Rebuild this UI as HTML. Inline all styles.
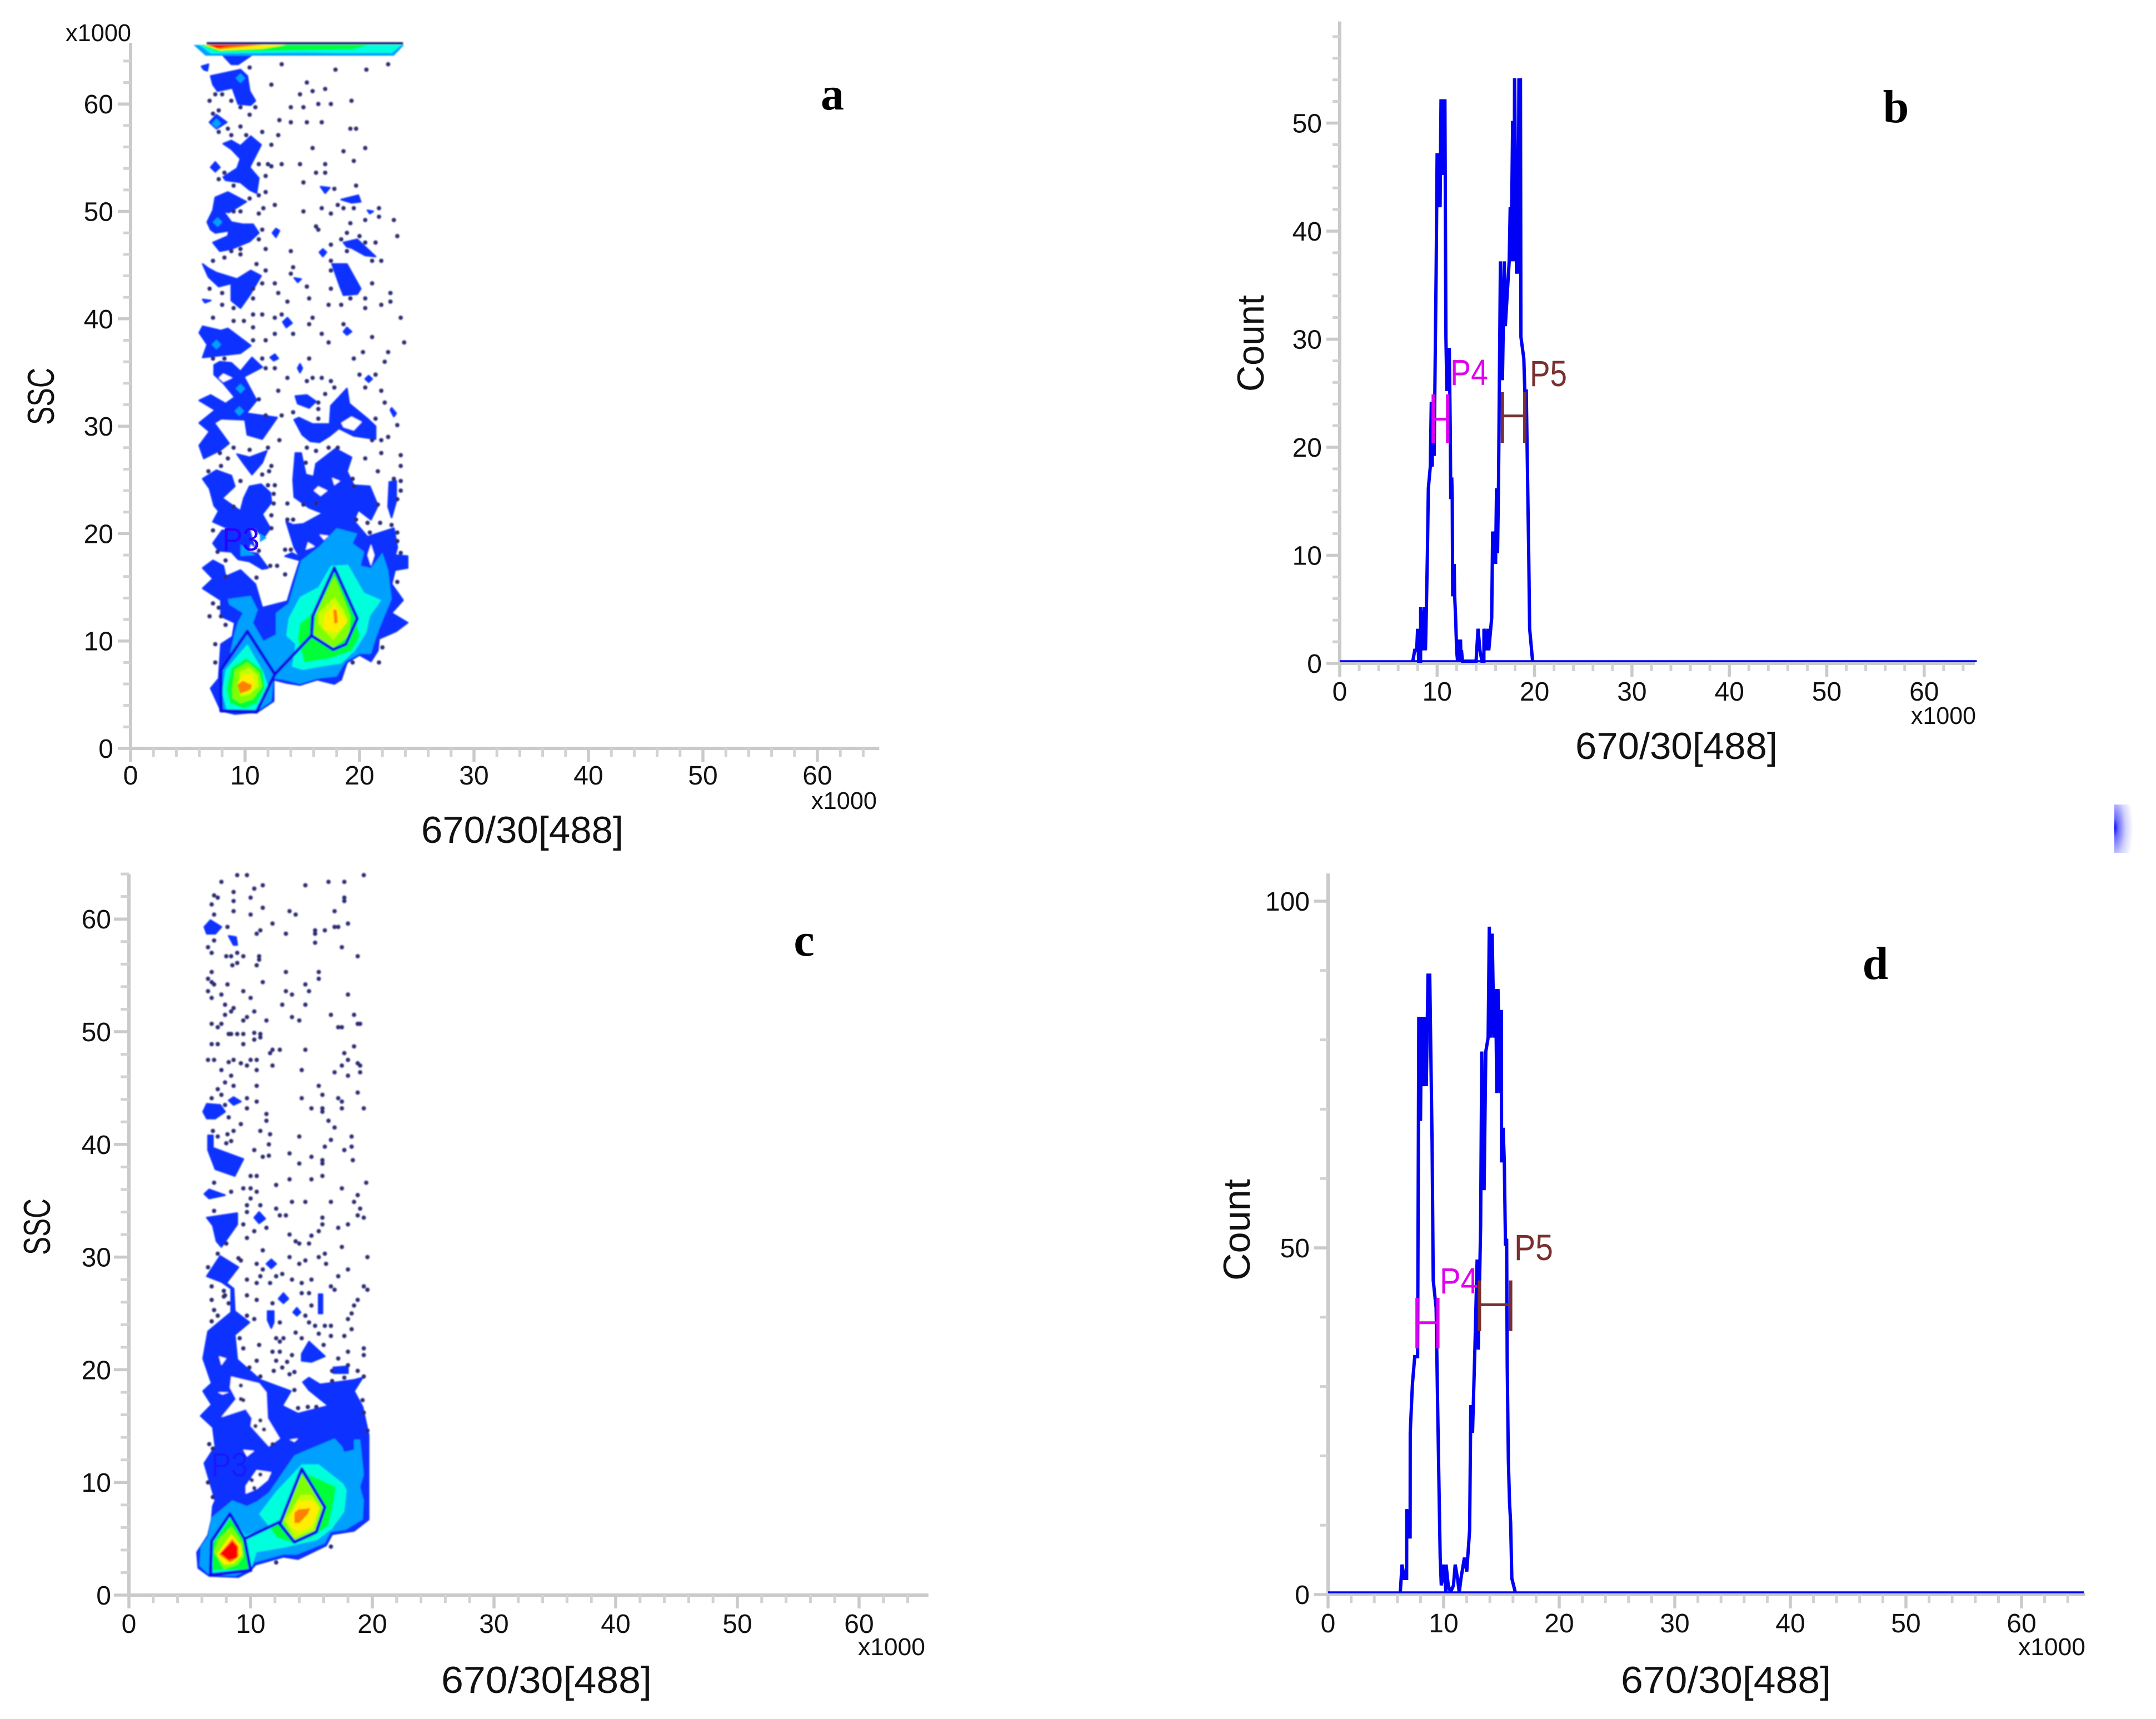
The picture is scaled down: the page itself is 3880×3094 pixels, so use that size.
<!DOCTYPE html>
<html lang="en">
<head>
<meta charset="utf-8">
<title>Flow cytometry panels</title>
<style>
html,body{margin:0;padding:0;background:#fff;}
svg{display:block;}
text{font-family:"Liberation Sans",sans-serif;fill:#111;}
.tick{font-size:48px;}
.title{font-size:68px;}
.mult{font-size:44px;}
.letter{font-family:"Liberation Serif",serif;font-weight:bold;font-size:84px;fill:#000;}
.gate-label{font-size:66px;}
</style>
</head>
<body>
<svg id="fig" xmlns="http://www.w3.org/2000/svg" width="3880" height="3094" viewBox="0 0 3880 3094">
<defs>
<clipPath id="clip-b"><rect x="2300" y="141" width="1300" height="1070"/></clipPath>
<radialGradient id="edge-glow" cx="0" cy="0.48" r="1">
<stop offset="0" stop-color="#0000ff"/><stop offset="0.2" stop-color="#6a6aff"/><stop offset="0.6" stop-color="#d0d0ff"/><stop offset="1" stop-color="#ffffff"/>
</radialGradient>
<filter id="soft" filterUnits="userSpaceOnUse" x="0" y="0" width="3880" height="3094">
<feGaussianBlur stdDeviation="1.3"/>
</filter>
</defs>
<rect x="0" y="0" width="3880" height="3094" fill="#fff"/>

<g id="panel-a"></g>
<g id="panel-b"></g>
<g id="panel-c"></g>
<g id="panel-d"></g>

<text class="letter" x="1498" y="197" text-anchor="middle">a</text>
<text class="letter" x="3412" y="220" text-anchor="middle">b</text>
<text class="letter" x="1447" y="1720" text-anchor="middle">c</text>
<text class="letter" x="3375" y="1762" text-anchor="middle">d</text>

<text class="title" x="758" y="1517" textLength="364" lengthAdjust="spacingAndGlyphs">670/30[488]</text>
<text class="title" x="2835" y="1366" textLength="364" lengthAdjust="spacingAndGlyphs">670/30[488]</text>
<text class="title" x="794" y="3047" textLength="379" lengthAdjust="spacingAndGlyphs">670/30[488]</text>
<text class="title" x="2917" y="3047" textLength="378" lengthAdjust="spacingAndGlyphs">670/30[488]</text>

<text class="title" transform="translate(97,765) rotate(-90)" textLength="103" lengthAdjust="spacingAndGlyphs">SSC</text>
<text class="title" transform="translate(90,2259) rotate(-90)" textLength="102" lengthAdjust="spacingAndGlyphs">SSC</text>
<text class="title" transform="translate(2274,705) rotate(-90)" textLength="174" lengthAdjust="spacingAndGlyphs">Count</text>
<text class="title" transform="translate(2249,2305) rotate(-90)" textLength="183" lengthAdjust="spacingAndGlyphs">Count</text>

<text class="mult" x="118" y="74" textLength="118" lengthAdjust="spacingAndGlyphs">x1000</text>
<text class="mult" x="1460" y="1456" textLength="118" lengthAdjust="spacingAndGlyphs">x1000</text>
<text class="mult" x="3439" y="1303" textLength="117" lengthAdjust="spacingAndGlyphs">x1000</text>
<text class="mult" x="1544" y="2979" textLength="121" lengthAdjust="spacingAndGlyphs">x1000</text>
<text class="mult" x="3632" y="2979" textLength="121" lengthAdjust="spacingAndGlyphs">x1000</text>

<text class="gate-label" x="400" y="991" textLength="67" lengthAdjust="spacingAndGlyphs" style="font-size:58px;fill:#2a00ff">P3</text>
<text class="gate-label" x="380" y="2657" textLength="66" lengthAdjust="spacingAndGlyphs" style="font-size:60px;fill:#1a1aff">P3</text>
<text class="gate-label" x="2610" y="693" textLength="68" lengthAdjust="spacingAndGlyphs" style="fill:#e000f0">P4</text>
<text class="gate-label" x="2753" y="695" textLength="67" lengthAdjust="spacingAndGlyphs" style="fill:#7a3030">P5</text>
<text class="gate-label" x="2591" y="2328" textLength="69" lengthAdjust="spacingAndGlyphs" style="fill:#e000f0">P4</text>
<text class="gate-label" x="2725" y="2268" textLength="70" lengthAdjust="spacingAndGlyphs" style="fill:#7a3030">P5</text>

<rect x="3805" y="1448" width="34" height="87" fill="url(#edge-glow)"/>
</svg>

<script>
/* ---------- shared tick values ---------- */
const xMajorTicks = [0,10,20,30,40,50,60];
const xMinorTicks = [2,4,6,8,12,14,16,18,22,24,26,28,32,34,36,38,42,44,46,48,52,54,56,58,62,64];
const yMajorTicksSSC = [0,10,20,30,40,50,60];
const yMinorTicksSSC = [2,4,6,8,12,14,16,18,22,24,26,28,32,34,36,38,42,44,46,48,52,54,56,58,62,64];
const yMajorTicksCountB = [0,10,20,30,40,50];
const yMinorTicksCountB = [2,4,6,8,12,14,16,18,22,24,26,28,32,34,36,38,42,44,46,48,52,54,56,58];
const yMajorTicksCountD = [0,50,100];
const yMinorTicksCountD = [10,20,30,40,60,70,80,90];

/* ---------- contour level colours ---------- */
const levelBlue = "#0a32ff";
const levelLight = "#00a0ff";
const levelCyan = "#00ffdc";
const levelGreen = "#00ff38";
const levelLime = "#80ff00";
const levelChartreuse = "#c8ff00";
const levelYellow = "#ffee00";
const levelOrange = "#ff8000";
const levelRed = "#ff0000";

/* ---------- panel a: SSC vs 670/30 (thousands) ---------- */
const aBlue = [
[[8.1,64.5],[10.5,64.5],[9.4,63.7],[8.8,63.7]],
[[6.2,63.5],[6.8,63.7],[6.7,63.1],[6.4,63.2]],
[[7,62.6],[9.6,63.2],[10.2,62.6],[10.4,61.2],[10.9,60.3],[10.5,59.9],[9.4,60],[8.9,61.5],[7.6,61.2],[7.2,61.8]],
[[7.5,59],[8.4,58.3],[7.5,57.7],[6.9,58.3]],
[[8.1,56.3],[8.8,56.6],[9.6,56.1],[10.5,57],[11.4,56.2],[10.4,54.1],[11.2,53.1],[11,51.7],[10.4,52],[9.6,52.7],[8.3,52.9],[8.1,53.2],[9.3,54],[9.6,54.9],[8.8,55.8]],
[[7.4,54.6],[7.8,54.1],[7.4,53.7],[7,54.1]],
[[7.4,51.3],[8.5,51.8],[10.1,50.9],[8.6,49.9],[8.1,50],[8.8,49],[9.8,48.8],[10.7,48.8],[11.2,48],[10.4,47.2],[8.8,46.5],[7.8,46.3],[7.2,47.1],[8.5,47.7],[8.6,48.2],[7.4,48],[7,48.3],[6.7,49],[7.2,50.1]],
[[12.7,48.4],[13,48.2],[12.7,47.6],[12.4,48]],
[[16.6,52.3],[17.4,52.2],[17,51.7]],
[[18.4,51.1],[19.9,51.5],[20.1,50.9],[19.3,50.8]],
[[20.7,50.1],[21.2,50],[20.9,49.8]],
[[18.6,47.1],[19.8,47.4],[21.4,45.8],[20.5,45.9],[19.3,46.6],[18.9,46.7]],
[[16.8,46.5],[17.1,46.2],[16.8,45.8],[16.5,46.2]],
[[17.6,45.1],[18.9,45.1],[20.1,42.8],[19.8,42.3],[18.6,42.2],[18.3,43]],
[[6.3,45.1],[6.8,44.7],[7.5,44.3],[9.3,43.7],[10.5,44.5],[11.4,44],[10.4,42.2],[9.6,41],[8.8,41.7],[8.8,43.3],[7.7,43],[6.8,43.9]],
[[14.3,43.8],[14.9,43.7],[14.6,43.4]],
[[6.3,41.8],[7,41.7],[6.5,41.5]],
[[13.7,40.1],[14.1,39.6],[13.6,39.2],[13.3,39.7]],
[[18.9,39.2],[19.3,38.8],[18.9,38.5],[18.6,38.8]],
[[6,38.7],[6.3,39.3],[7.9,38.9],[8.5,39.1],[10.5,37.5],[9.6,36.8],[6.3,36.4],[6.7,37.6]],
[[12.6,36.7],[12.9,36.3],[12.5,36.1],[12.2,36.4]],
[[14.8,35.8],[15,35.4],[14.8,35],[14.6,35.4]],
[[20.8,34.7],[21.1,34.4],[20.8,34.1],[20.5,34.4]],
[[22.8,31.7],[23.2,31.2],[23,30.9],[22.7,31.5]],
[[7.3,35.7],[7.8,36],[8.8,35.9],[9.6,35.1],[10.6,36.4],[11.5,35.5],[9.9,34.6],[11,32.4],[10.1,31.2],[12.8,30.8],[11.5,28.8],[10.2,29.2],[10,30.6],[7.9,30.7],[7.3,30.3],[8.6,28.4],[7.9,27.8],[6.4,27],[6,28.2],[6.9,29.5],[6,30.3],[7.4,31.5],[6,32.4],[7,32.9],[8.3,32.1],[9.1,32.7],[8.1,34],[7.3,34.8]],
[[14.4,32.8],[15.4,32.9],[16.2,32.3],[15.6,31.7],[14.6,32.1]],
[[14.3,30.6],[14.7,30.8],[15.9,30.2],[17.4,30.2],[17.5,31.9],[18.9,33.5],[19.1,32.1],[20.7,30.7],[21.4,30],[21.4,28.8],[19.5,29.1],[18.2,29.8],[17.4,29.1],[16.5,28.5],[15.7,28.6],[15,29.2]],
[[9.3,27.4],[10.4,27.1],[11.9,27.7],[11.5,26.6],[10.6,25.5],[9.9,26.5]],
[[6.3,25.1],[7.5,25.9],[8.8,25.4],[9.1,24.4],[8,23.3],[9.6,22.1],[9.9,23.3],[10.4,24.4],[11.4,24.6],[12.2,23.8],[12.3,22.9],[11.5,21.8],[12.2,20.5],[11.6,19.6],[10.9,20.5],[8.9,20.3],[7.2,21.1],[7.7,22.1],[7.3,22.6],[6.9,24.2]],
[[7.2,19.1],[8,20.3],[10.4,20.3],[10.9,18.4],[12,16.8],[11.5,16.7],[10.4,17.4],[9.4,17.6],[8.8,18.3],[7.7,18.4]],
[[22.6,24.8],[23.2,24.9],[23.2,23],[22.8,21.5],[22.5,22.5]],
[[6.3,16.8],[7.2,17.5],[8.1,17],[8.3,16],[9.6,16.6],[10.9,15.3],[11.5,13.1],[13.7,13.7],[14.2,15.5],[14.8,17.5],[13.5,17.9],[14.1,18.2],[14.8,17.8],[14.3,18.7],[13.6,21.1],[14.2,20.8],[15.1,20.9],[16.8,21.9],[15.6,22.4],[14.3,23.4],[14.2,25],[14.4,27.5],[14.9,27.5],[15.3,25.5],[16,25.3],[16.2,26.5],[17.9,27.9],[19.3,27.1],[18.9,25.8],[19.5,24.5],[20.9,24.4],[21.6,22.6],[21,21.3],[19.9,22.2],[19.5,21.2],[20.7,19.7],[23,20.5],[23.3,18.7],[23.1,18],[24.2,17.9],[24.2,16.8],[23.1,16.6],[22.8,15.3],[23.8,13.8],[22.8,12.6],[24.2,11.7],[23.2,10.9],[21.7,10.2],[21.6,9.1],[21,8.1],[20,8.7],[18.9,8],[18.4,6.4],[17.8,6],[16.3,6.4],[14.8,5.9],[13.6,6.1],[12.5,6.4],[12.5,4.4],[11.1,3.4],[9.1,3.2],[7.9,3.5],[7,5.6],[7.7,6.5],[7.9,9.7],[8.9,10.4],[9.1,11.7],[7.9,12.3],[7.9,13.8],[6.3,14.9],[7.2,15.8]]
];
const aHoles = [
[[8.1,34.9],[8.9,34.5],[8.1,34.1],[7.7,34.5]],
[[18.4,30.3],[19.3,30.9],[20.2,30.4],[19.5,29.6],[18.6,29.9]],
[[16.4,24.4],[17.2,24],[16.6,23.5],[16,24]],
[[17.6,25.2],[18.3,24.9],[17.8,24.5]],
[[15.5,19.2],[16.1,18.8],[15.3,18.5]],
[[16.5,19.9],[17.3,19.8],[16.9,19.4]],
[[10.5,19],[11.3,18.2],[10.4,18.4]],
[[21,19],[21.3,18],[21,17],[20.7,18]]
];
const aLight = [
[[8.5,13.9],[10.5,14.2],[11.1,12.9],[10.7,11.7],[11.6,10],[12.7,10.6],[12.7,12.6],[13.8,13.5],[14.3,15.3],[14.9,17.5],[16.5,18.8],[18,20.5],[19.8,20],[19.4,19.1],[20.4,18.3],[20.1,17],[21,16.8],[22,18.2],[22.5,16.6],[22.8,13.9],[21.9,11.6],[21.5,10.5],[21,8.8],[20,8.8],[18.8,8.1],[18,6.7],[16.3,6.5],[14.8,6],[13.3,6.4],[12.5,6.5],[12.3,4.4],[11.1,3.5],[9.1,3.4],[8.1,3.6],[7.9,7.1],[8.6,8.4],[9.1,10.8],[9.4,11.8],[9.8,12.6],[8.6,13.4]],
[[9.6,19],[10.9,18],[9.6,17.9]],
[[11.3,20],[11.9,19.6],[11.3,19.2]],
[[5.5,65.5],[23.9,65.5],[23,64.5],[6.55,64.5]]
];
const aCyan = [
[[14.3,13.1],[14.8,14.1],[16.4,15],[17.5,17],[19,17.1],[20.4,14.5],[21.9,13.8],[20.9,12.3],[20.6,10.8],[19.6,9.1],[18.4,7.9],[16.5,7.6],[15.1,7.3],[14.1,7.6],[14.4,9.7],[13.6,10.5],[13.8,12.1]],
[[8.3,7.3],[10.2,9.7],[11.6,7.1],[12.1,5.5],[11,3.6],[8.4,3.6],[8,5.2]],
[[6,65.5],[23.7,65.5],[22.8,64.75],[18,64.75],[15,64.8],[7,64.7]]
];
const aGreen = [
[[14.8,11.6],[15.9,12.6],[17.7,16.6],[18.3,15.3],[19.6,12.3],[20,10.4],[19.3,9.1],[17.5,8.4],[15.2,8],[14.6,10.2]],
[[8.4,5.6],[8.8,7.5],[10.1,8.4],[11.5,7.3],[11.7,5.6],[11,4.2],[9.9,3.7],[8.7,4.2]],
[[6.2,65.5],[20.8,65.5],[19.5,65.1],[14,65],[12,64.95],[7.5,64.9]]
];
const aLime = [
[[16.2,12.6],[17.8,16],[18.4,14.5],[19.2,12.3],[19.1,10.5],[17.6,9.3],[16,10.5]],
[[8.9,5.6],[9.1,7.3],[10.2,8],[11.2,7.1],[11.5,5.8],[10.7,4.6],[9.6,4.2],[8.9,4.7]]
];
const aChartreuse = [
[[16.4,12.6],[17.8,14.1],[18.6,12.9],[19,11.9],[18.4,11],[17.7,10.1],[16.4,11.6]],
[[9.5,6],[9.5,7.1],[10.4,7.5],[11.1,6.8],[11.2,5.8],[10.4,5],[9.6,4.8]]
];
const aYellow = [
[[16.9,12.3],[17.8,13.4],[18.6,12.3],[18.9,11.7],[18,10.8],[16.9,11]],
[[9.4,6.1],[9.8,6.8],[10.6,6.9],[10.9,6],[10.4,5.2],[9.6,5.1]],
[[6.4,65.5],[13.6,65.5],[11.5,65.15],[7.8,65]]
];
const aOrange = [
[[17.7,12.9],[18,12.9],[18.1,11.7],[17.8,11.6]],
[[9.3,5.9],[9.8,6.3],[10.6,5.9],[10.5,5.5],[9.6,5.1]],
[[6.6,65.5],[11.6,65.5],[9,65.25],[7.8,65.1]]
];
const aRed = [
[[6.9,65.5],[11,65.5],[8.5,65.35],[7.5,65.2]]
];
const aSpots = [[9.6,62.4],[7.5,58.2],[7.6,49],[7.5,37.6],[9.6,33.5],[9.5,31.4]];
const aTopEdge = [[6.65,65.65],[23.8,65.65]];
const aGateLow = [[7.9,7.3],[10.2,10.9],[12.6,6.9],[11,3.4],[7.9,3.5]];
const aGateHigh = [[15.8,10.5],[15.9,12.3],[17.8,16.8],[19.8,12.1],[18.8,9.7],[17.7,9.2]];
const aGateLink = [[12.6,6.9],[15.8,10.5]];
const aDots = [
[13.2,63.7],[17.9,63.2],[20.6,63.2],[22.5,63.7],[12.3,61.8],[15.4,62],[14.8,60.9],[15.9,61.2],[17,61.4],[6.9,60.3],[7.4,60.9],[8,60.9],[8.8,60.3],[9.6,59.7],[10.9,59.7],[14,59.7],[15.1,59.7],[16.4,60],[17.5,60],[19.3,60.3],[10.4,59],[10.4,63.4],[7.2,59.1],[7.7,59.4],[13,58.5],[14,58.3],[15.4,58.3],[16.7,58.3],[9.6,57.9],[19.2,57.7],[19.7,57.7],[8.5,57.7],[11.5,57.4],[7.7,57.4],[8.8,57.1],[10.1,57.1],[12.9,57.1],[12.3,56.2],[15.9,55.9],[18.6,55.6],[20.5,55.9],[19.5,54.7],[11.2,54.4],[12,54.4],[12.3,54.2],[13.2,54.4],[14.8,54.4],[17,54.4],[16.2,53.6],[17,53.6],[11.8,53.3],[7.7,53],[8.2,53.6],[15.1,52.7],[9,52.4],[19.7,52.4],[17.8,52.1],[11.2,51.5],[11.8,51.8],[10.4,51.2],[12.6,50.6],[18.1,50.6],[11.6,50.3],[16.7,50.3],[18.6,50.3],[19.5,50.3],[21.7,50.3],[15.1,50],[9.6,50],[9,50],[11.2,49.8],[17.5,49.8],[20.5,49.2],[21.7,49.5],[23,49.2],[19.2,48.9],[16.2,48.6],[16.4,48.3],[11.5,48.3],[18.9,48],[20,47.7],[23.3,47.7],[18.4,47.4],[20.5,47.1],[21.4,47.1],[11.2,47.4],[17.5,46.9],[18.9,46.3],[11.8,46.5],[9.6,46.5],[8.8,46.3],[14,46.3],[9.6,46],[8.2,45.7],[7.2,45.4],[21.1,45.4],[21.9,45.4],[17.5,45.4],[11,45.1],[14.2,44.8],[11.8,44.5],[14,44.2],[17.5,44.5],[11.5,43.3],[12.6,43.3],[21.1,43.3],[15.4,43],[10.7,42.8],[17.5,42.8],[6.9,42.8],[8,42.4],[12.9,42.4],[22.7,42.4],[10.7,41.9],[15.6,41.9],[19.2,41.9],[20.5,41.9],[13.7,41.6],[22.7,41.6],[8,41.3],[9,41],[17.3,41.3],[18.4,41.3],[21.9,41.3],[20.5,41],[7.2,40.1],[10.7,40.4],[11.5,40.4],[13.2,40.4],[15.9,40.1],[23.6,40.1],[9,39.8],[9.9,39.8],[12.6,40.1],[15.6,39.5],[18.6,39.5],[10.7,39.2],[12.6,38.6],[14.2,38.6],[16.7,38.6],[21.1,38.3],[11.8,38],[10.7,38],[17.3,37.8],[23.9,37.8],[20.3,36.9],[22.5,36.9],[7.2,36.3],[8.2,36.3],[11.5,36.3],[15.6,36.3],[19.5,36.3],[22.2,36],[11.8,35.4],[12.6,35.4],[13.7,34.5],[15.4,34.2],[15.9,34.5],[16.7,34.5],[17.5,34.2],[20,34.8],[21.4,34.8],[20.5,33.6],[17.8,33.6],[12.9,33.3],[21.9,33.3],[17,33],[11.2,32.5],[16.4,32.2],[22.2,32.2],[16.4,31.6],[14.2,31.3],[11.8,31],[13.2,31],[16.4,30.7],[21.4,30.7],[23.3,30.1],
[21.9,28.7],[22.5,29],[21.1,28.7],[13,28.7],[17.3,28],[15.4,28],[16.2,27.7],[18.1,28],[9,28],[10.4,27.8],[12,28],[23.6,27.3],[21.9,27.5],[20.5,27],[8.5,27],[7.8,27.5],[23.6,26.3],[7.9,26.3],[12.3,26.3],[15.3,26.6],[21.6,25.8],[12.1,25.8],[11.5,25.5],[6.8,25.8],[19.4,25.1],[23,25.1],[23.6,24.9],[9.6,24.9],[19.5,24.4],[12,24.5],[12.6,24.5],[23.6,24],[12.5,23.7],[13.7,22.8],[12.5,22.8],[15.1,22.7],[16.2,22.8],[23.3,23.2],[9,22.5],[21.6,22.7],[12.3,21.7],[19.7,21.3],[21.8,21],[20.7,21],[13.7,21.3],[14.2,21.3],[22.8,20.8],[12.3,20.5],[23.3,20.1],[20.9,20.1],[7.2,20.3],[23.3,19.3],[7.6,18.3],[13.5,18.5],[14,18.5],[23.6,18.2],[11.2,18.4],[8.3,17.5],[12.2,17],[12.8,17],[13.5,16.2],[8.3,16],[11,15.9],[23.3,15.5],[7.2,13.5],[7.7,13.1],[6.9,12.3],[7.9,12.3],[8.3,11.5],[7.4,9.7],[7.4,8],[22,9.4],[21.7,8],[19.4,8]
];

/* ---------- panel b: histogram ---------- */
const bBins = [0,7.5,7.7,7.9,8,8.1,8.3,8.31,8.6,8.7,8.8,8.9,9,9.1,9.3,9.4,9.5,9.55,9.7,9.8,9.9,10,10.1,10.2,10.3,10.4,10.45,10.55,10.6,10.7,10.75,10.8,10.9,11,11.1,11.15,11.25,11.35,11.4,11.5,11.55,11.6,11.75,11.8,11.9,12,12.1,12.2,12.3,12.4,12.45,12.5,12.6,14,14.2,14.4,14.6,14.8,14.81,15.1,15.2,15.3,15.6,15.7,16,16.1,16.2,16.3,16.5,16.7,16.9,17,17.2,17.4,17.5,17.6,17.75,17.9,17.95,18.05,18.15,18.3,18.4,18.5,18.55,18.6,18.9,19,19.15,19.4,19.5,19.8,65.4];
const bCounts = [0,0,1,1,3,0,0,5,1,5,1,5,10,16,18,24,18,24,19,28,36,47,42,47,42,52,45,52,45,52,45,52,30,25,29,25,29,21,15,17,15,6,9,6,4,1,0,2,0,2,0,1,0,0,3,1,0,0,3,1,3,1,4,12,9,16,10,16,37,26,37,31,34,37,42,37,50,37,55,44,36,36,55,44,55,30,28,25,25,10,3,0,0];
const bGateP4 = [9.6,11.08];
const bGateP5 = [16.7,19];
const bGateP4Levels = [20.4,22.6,24.9];
const bGateP5Levels = [20.4,22.9,25.1];

/* ---------- panel c: SSC vs 670/30 (thousands) ---------- */
const cBlue = [
[[6.2,59.3],[6.7,59.9],[7.6,59.3],[7.1,58.7],[6.4,58.7]],
[[8.2,58.5],[8.8,58.4],[8.9,57.7],[8.6,57.7]],
[[6.1,42.9],[6.4,43.6],[7.5,43.5],[7.9,42.9],[7.1,42.3],[6.4,42.3]],
[[8.2,43.9],[8.6,44.2],[9.2,43.8],[8.6,43.5]],
[[6.5,40.8],[6.9,40.8],[6.9,39.7],[9.4,38.7],[8.7,37.2],[7.1,37.8],[6.5,39.5]],
[[6.2,35.6],[6.6,36],[7.9,35.5],[6.6,35.2]],
[[6.4,33.5],[8.9,33.9],[8.9,32.9],[7.6,30.9],[7.2,31.4],[6.9,32.8]],
[[10.3,33.5],[10.7,34],[11.2,33.4],[10.7,33]],
[[11.7,29.8],[12.1,29.4],[11.7,29],[11.3,29.4]],
[[14.2,21.4],[14.8,22.5],[16.1,21.2],[15,20.7],[14.2,20.8]],
[[11.4,25.2],[11.9,25.2],[11.9,24.2],[11.7,23.7],[11.4,24.4]],
[[13.8,25.5],[14.1,25.1],[13.8,24.8],[13.5,25.1]],
[[12.7,26.8],[13.1,26.3],[12.7,25.9],[12.3,26.3]],
[[16.8,20.2],[18,20.3],[18,19.7],[16.8,19.7]],
[[15.6,26.7],[15.9,26.7],[15.9,25],[15.6,25]],
[[6.4,28.3],[7.5,30.1],[9,29.1],[8,27.7],[8.6,27.2],[8.7,25.2],[9.9,24.2],[8.7,23.1],[8.9,20.9],[10.8,19.1],[13.3,18.1],[12.6,16.8],[13.9,16.1],[16.4,16.8],[14.8,18.2],[14.3,18.9],[14.8,19.3],[15.7,18.7],[18.5,19.1],[19.2,19.3],[18.5,18.1],[19.2,16.7],[19.7,14.2],[19.7,6.7],[18.5,5.7],[16.7,5.4],[16.2,4.4],[13.9,3.2],[12.7,3.4],[10.4,2.7],[9.9,2.1],[9,1.6],[6.6,1.7],[5.7,2.4],[5.6,3.8],[6.5,5.3],[6.8,6.7],[6.9,7.9],[7.1,8.4],[6.2,11.7],[6.8,12.7],[7.1,13.2],[6.9,14.9],[5.9,15.9],[6.8,16.9],[6.1,18.1],[6.8,18.8],[6.1,21],[6.5,23.4],[8.4,25.1],[8.4,27.2],[7.6,27.8]]
];
const cHoles = [
[[8.4,19.4],[10.7,18.8],[11.3,18],[11.4,15.7],[12.4,13.9],[11.5,13.2],[10,15],[10.1,15.7],[9.6,16.5],[7.6,15.8],[8.8,17.4],[8.3,18.4]],
[[9.6,9.7],[10.5,11.1],[11.7,10.9],[11.4,10.2],[10.5,9.4],[9.6,9]],
[[7.4,21.2],[8,21],[7.6,20.4]],
[[7.3,18],[8.2,18],[7.7,17.8]],
[[9.4,12.9],[10.3,12.8],[9.7,12.3]],
[[13.2,13.8],[13.9,13.9],[13.6,13.6]]
];
const cLight = [
[[6.8,6.9],[8.5,8.4],[9.7,7.9],[10.5,8.3],[11.5,9.1],[13.6,12.4],[16.9,13.9],[17.5,13.2],[17.7,12.7],[18.5,12.9],[18.5,13.8],[19,13.8],[19.3,10.7],[19,9.6],[19.3,8.4],[19.2,6.7],[17.8,5.8],[16.6,5.6],[16.1,4.6],[13.8,3.6],[12.7,3.6],[10.3,2.9],[9.9,2.2],[8.7,1.7],[6.6,1.8],[5.8,2.6],[5.9,4.3],[6.5,5.2]]
];
const cCyan = [
[[6.9,1.9],[6.8,4.9],[8.3,7.2],[9.6,5.3],[11.5,6.1],[10.7,7.2],[12.1,9.2],[14.2,11.6],[15.6,11.6],[17.6,9.9],[17.9,9.3],[17.7,7.4],[16.7,5.9],[15.5,4.9],[12.7,4.2],[10.5,3.8],[10,2.2]]
];
const cGreen = [
[[11.4,6.2],[12.5,6.4],[14.2,10.9],[15.4,10.4],[17,9.6],[16.8,8.2],[16.4,6.2],[15,5.1],[13.6,4.6],[12.2,5.1]],
[[6.9,2.2],[6.9,4.6],[8.3,6.8],[9.6,4.9],[9.8,2.3]]
];
const cLime = [
[[12.5,6.7],[14.2,10.7],[15.5,8.9],[16.1,7.7],[15.4,5.6],[13.6,4.8]],
[[7,3.8],[7.3,4.9],[8.4,6.1],[9.3,4.7],[9.4,3.4],[8.9,2.7],[7.8,2.3]]
];
const cChartreuse = [
[[12.8,6.7],[14.1,8.9],[15,8.9],[15.7,7.8],[15.2,5.8],[13.6,5.1]]
];
const cYellow = [
[[13.2,6.9],[13.9,8.3],[15,8.4],[15.6,7.7],[15,6.1],[13.9,5.6],[13.2,6.2]],
[[7.2,3.6],[8.4,5.4],[9.2,4.4],[9.3,3.6],[8.6,2.8],[7.8,2.7]]
];
const cOrange = [
[[13.6,7.3],[13.9,7.6],[14.9,7.7],[14.7,7.2],[14,6.4],[13.6,6.4]],
[[7.4,3.6],[8.5,5],[9,4.3],[9,3.4],[8.3,2.9]]
];
const cRed = [
[[7.5,3.7],[8.5,4.8],[8.9,4.3],[8.9,3.3],[8.2,3.1]]
];
const cGateLow = [[6.8,4.8],[8.3,7.2],[9.5,5],[10,2.2],[6.7,1.8]];
const cGateHigh = [[12.4,6.3],[14.2,11.2],[16.1,7.8],[15.4,5.6],[13.6,4.7]];
const cGateLink = [[9.5,5],[12.4,6.5]];
const cDots = [
[7.6,63.3],[8.6,62.4],[10.3,62.7],[11,63],[14.5,63],[16.4,63.3],[17.7,63.3],[19.3,63.9],[8.9,63.9],[9.7,63.9],[7,62.1],[7.3,61.9],[8.6,61.6],[10,61.9],[17.7,61.9],[17.7,61.6],[6.8,61.3],[11,61],[7,60.4],[8.6,60.7],[10,60.4],[13.2,60.7],[13.7,60.4],[16.9,60.7],[11.8,59.6],[8.1,59.3],[18,59.6],[16.1,59],[16.9,59.3],[17.2,59.3],[10.8,59],[10.5,58.7],[12.9,58.7],[15.3,59],[15.3,58.7],[7,58.1],[15.3,57.9],[6.5,57.5],[17.5,57.5],[6.8,57],[8.9,57],[8,56.7],[8.4,56.7],[9.4,56.7],[10.7,56.7],[18.8,56.7],[10.7,56.4],[8.9,56.1],[8.5,55.9],[10.5,55.9],[12.9,55.3],[15.6,55.3],[6.8,55.3],[15.6,54.7],[6.5,54.7],[6.8,54.4],[7,54.2],[11,54.4],[8.1,54.2],[14.5,54.2],[9.4,53.6],[12.9,53.6],[13.4,53.3],[14.8,53.6],[6.5,53.6],[6.8,53],[7.6,53.3],[10,53],[18,53.3],[7.9,52.4],[12.6,52.4],[14.5,52.4],[8.6,52.1],[8.4,51.8],[10.3,51.8],[7.9,51.5],[16.6,51.5],[18.5,51.5],[9.7,51.3],[9.4,51],[11.3,51],[13.4,51.3],[14,51],[6.8,50.7],[7.6,50.7],[7.3,50.4],[17.2,50.4],[17.5,50.4],[18.8,50.7],[19,50.7],[10.3,49.9],[10.8,49.8],[8.2,49.8],[8.4,49.8],[8.9,49.8],[9.4,49.8],[10.8,49.5],[10.3,49.3],[6.8,48.9],[7.3,48.9],[9.4,48.9],[18.5,48.7],[11.8,48.4],[12.4,48.4],[14.5,48.4],[11.6,48.1],[17.7,48.1],[6.5,47.5],[7,47.5],[8.2,47.3],[8.6,47.5],[9.2,47.2],[10,47.5],[10.5,47.5],[9.7,47],[18,47.5],[18.8,47.2],[11.8,47],[17.5,47],[19,47],[7.6,46.6],[10.5,46.6],[14.2,46.6],[16.9,46.4],[19,46.4],[8.4,46.1],[18,46.1],[7.9,45.5],[8.6,45.2],[10.5,45.2],[15.6,45.2],[7.3,44.9],[18.8,44.6],[15.9,44.4],[6.8,44.1],[7.6,44.4],[9.7,44.1],[14.2,44.1],[17.2,44.1],[10.5,43.8],[17.5,43.8],[7.9,43.5],[9.7,43.2],[15,43.2],[15.9,43.2],[15.9,42.9],[17.5,43.2],[19.3,43.2],[11.3,42.7],[11.3,42.1],[8.2,42.4],[16.4,42.1],[9.2,41.8],[8.6,41.2],[16.9,41.5],[6.9,41.2],[10.8,41.2],[11.6,40.9],[7.3,40.7],[8.1,40.9],[14,40.7],[18.3,40.7],[16.6,40.4],[8,40.1],[8.4,40.3],[11.5,40],[16.1,39.8],[18.3,39.8],[10.3,39.5],[17.7,39.5],[13.2,39.2],[11.5,39],[15,38.9],[11,38.9],[15.9,38.6],[18.4,38.6],[14,38.3],[15.9,38.3],[13.2,36.9],[15,36.9],[10,37.2],[10.5,37.2],[15.9,37.2],[19.5,36.6],[7,36.6],[12.1,36.4],[9.4,36.1],[10,36.1],[10.5,35.8],[17.5,36.1],[8.4,35.8],[18.8,35.5],[10,35.2],[13.4,34.9],[14.5,34.9],[16.6,34.9],[18.5,34.9],[9.7,34.6],[10.8,34.6],[19,34.3],[12.1,34.3],[7,34.1],[9.7,34],[12.4,33.7],[12.9,33.7],[18.8,33.7],[15.9,33.5],[19.3,33.5],[9.4,32.9],[15.9,32.9],[18,32.9],[17.2,32.6],[11.3,32.6],[10.3,32.3],[15.6,32.3],[13.2,32],[9.7,31.7],[15,31.9],[13.7,31.4],[14,31.2],[14.8,31.2],[8,31.2],[17.5,30.9],[11,30.6],[7.3,30.3],[16.1,30.3],[13.2,30],[15.6,30],[19.6,30],[9,29.9],[9.2,29.7],[10.5,29.4],[14,29.4],[14.5,29.7],[16.2,29.4],[18,28.9],[11,28.9],[6.5,29.1],[10.8,28.3],[12.1,28.3],[12.6,28.5],[17.2,28.3],[9.7,28],[13.4,28],[15,28],[10.5,27.7],[11.6,27.7],[14.2,27.7],[19.3,27.4],[16.6,27.4],[6.8,27.4],[19.6,27.1],[16.9,27.1],[9.7,26.6],[7.9,26.6],[14.2,26.8],[14.8,26.8],[6.8,26.2],[10.5,26.2],[11.8,25.9],[18.8,26.2],
[7.8,27],[7.8,26.5],[8.2,25.9],[15,25.7],[18.5,25.7],[7,25.3],[18.3,25],[7.3,24.8],[9.7,24.8],[10.3,24.5],[14.5,24.8],[18,24.5],[6.8,24.3],[12.4,24.2],[14.8,24.2],[15.3,23.9],[16.6,23.9],[16.1,23.9],[18.3,23.6],[13.7,23.3],[15.6,23.2],[17.7,23],[16.6,23],[12.1,22.8],[12.7,22.8],[9.1,22.8],[14.2,22.8],[10.7,22.2],[12.4,22.5],[16,22.2],[9.4,21.9],[19.3,21.9],[18,21.6],[11.8,21.6],[12.4,21.6],[13.4,21.3],[19.3,21.3],[12.1,20.8],[13,20.7],[10.5,20.8],[17.2,21],[18,20.4],[9.9,20.2],[11.9,19.9],[12.6,20.2],[13.6,19.8],[13.2,19.6],[10.8,19.4],[16.7,19.9],[19.3,19.4],[16.7,19],[17.7,19.3],[18.8,19.9],[13.6,18.2],[19.2,17.3],[19.3,16.2],[19.6,14.6],[6.6,13.4],[6.9,13],[6.5,10],[6.9,8.7],[12.1,2.9],[16.6,4.3],[9.2,18.6],[9.2,17.4],[9.4,17.3],[10.4,15],[11.1,14.7],[10.8,15.5],[11.8,13.4],[13.9,16.6],[14.7,16.7],[15.4,16.7],[10.1,10.2],[10.8,10.7],[10.3,9.5]
];

/* ---------- panel d: histogram ---------- */
const dBins = [0,6.25,6.4,6.6,6.8,6.81,6.9,7.1,7.11,7.3,7.5,7.75,7.85,8,8.07,8.3,8.31,8.5,8.65,8.8,9,9.1,9.35,9.45,9.6,9.7,9.8,10,10.2,10.21,10.4,10.6,10.85,11,11.2,11.35,11.5,11.8,12,12.25,12.35,12.5,12.7,12.9,13,13.2,13.3,13.5,13.65,13.85,13.95,14.05,14.2,14.35,14.5,14.6,14.7,14.9,15,15.01,15.15,15.25,15.35,15.45,15.5,15.6,15.7,15.8,15.9,16.2,65.4];
const dCounts = [0,0,4,2,2,12,8,8,23,30,34,34,83,68,83,73,83,73,89,89,65,45,41,30,15,5,1,4,0,4,1,0,1,4,2,0,2,5,3,9,27,23,35,48,35,53,78,58,78,80,96,80,95,80,87,72,87,72,84,62,67,62,50,51,33,19,13,10,2,0,0];
const dGateP4 = [7.7,9.5];
const dGateP5 = [13.1,15.8];
const dGateP4Levels = [35.5,39.2,42.8];
const dGateP5Levels = [38,41.8,45.3];

/* ---------- helpers ---------- */
const NS = "http://www.w3.org/2000/svg";
function mk(tag, props, parent) {
  const el = document.createElementNS(NS, tag);
  for (const k in props) el.setAttribute(k, props[k]);
  parent.appendChild(el);
  return el;
}
function scales(cfg) {
  return {
    x: v => cfg.x0 + v * cfg.sx,
    y: v => cfg.y0 - v * cfg.sy
  };
}
function pts(list, s, yOffset) {
  const off = yOffset || 0;
  return list.map(p => s.x(p[0]).toFixed(1) + "," + (s.y(p[1]) + off).toFixed(1)).join(" ");
}
function drawAxes(cfg, parent) {
  const s = scales(cfg);
  const g = mk("g", {}, parent);
  
  
  const yAxis = mk("line", {x1:cfg.x0, x2:cfg.x0, y1:s.y(cfg.yTop), y2:cfg.y0+2, stroke:"#cacaca","stroke-width":6}, g);
  
  
  const xAxis = mk("line", {x1:cfg.x0-2, x2:s.x(cfg.xEnd), y1:cfg.y0, y2:cfg.y0, stroke:"#cacaca","stroke-width":6}, g);
  
  
  cfg.yMinor.forEach(v => {
    const t = mk("line", {x1:cfg.x0-cfg.minorLen, x2:cfg.x0, y1:s.y(v), y2:s.y(v), stroke:"#d2d2d2","stroke-width":5}, g);
    
    
  });
  cfg.yMajor.forEach(v => {
    const t = mk("line", {x1:cfg.x0-cfg.majorLen, x2:cfg.x0, y1:s.y(v), y2:s.y(v), stroke:"#cacaca","stroke-width":5.5}, g);
    
    
    const l = mk("text", {class:"tick", x:cfg.yLabelRight, y:s.y(v)+17, "text-anchor":"end"}, g);
    l.textContent = String(v);
    
    
  });
  xMinorTicks.forEach(v => {
    const t = mk("line", {x1:s.x(v), x2:s.x(v), y1:cfg.y0, y2:cfg.y0+cfg.minorLenX, stroke:"#d2d2d2","stroke-width":5}, g);
    
    
  });
  xMajorTicks.forEach(v => {
    const t = mk("line", {x1:s.x(v), x2:s.x(v), y1:cfg.y0, y2:cfg.y0+cfg.majorLenX, stroke:"#cacaca","stroke-width":5.5}, g);
    
    
    const l = mk("text", {class:"tick", x:s.x(v), y:cfg.y0+cfg.xLabelDy, "text-anchor":"middle"}, g);
    l.textContent = String(v);
    
    
  });
}
function drawLevel(list, color, name, s, parent, strokeWidth) {
  list.forEach(poly => {
    const props = {points:pts(poly, s), fill:color};
    if (strokeWidth) {
      props.stroke = color;
      props["stroke-width"] = strokeWidth;
      props["stroke-linejoin"] = "round";
    }
    const el = mk("polygon", props, parent);
    
    
  });
}
function drawDots(list, s, parent) {
  list.forEach(d => {
    const el = mk("circle", {cx:s.x(d[0]), cy:s.y(d[1]), r:3.9, fill:"#2a2a72"}, parent);
    
    
  });
}
function drawGate(list, closed, s, parent) {
  const el = mk(closed ? "polygon" : "polyline", {points:pts(list, s), fill:"none", stroke:"#0c0ce6", "stroke-width":6, "stroke-linejoin":"round"}, parent);
  
  
}
function drawHistogram(bins, counts, s, baseOffset, clip, parent) {
  const last = bins.length - 1;
  const base = mk("polyline", {points:pts([[bins[0],counts[0]],[bins[last],counts[last]]], s, baseOffset), fill:"none", stroke:"#0000f5", "stroke-width":3.5}, parent);
  
  
  const list = bins.map((b, i) => [b, counts[i]]).slice(1, last);
  const props = {points:pts(list, s, baseOffset), fill:"none", stroke:"#0000f5", "stroke-width":6, "stroke-linejoin":"miter", "stroke-miterlimit":2};
  if (clip) props["clip-path"] = clip;
  const el = mk("polyline", props, parent);
  
  
}
function drawRange(xs, levels, color, name, s, parent) {
  const g = mk("g", {stroke:color, fill:"none"}, parent);
  
  
  xs.forEach(v => {
    mk("line", {x1:s.x(v), x2:s.x(v), y1:s.y(levels[0]), y2:s.y(levels[2]), "stroke-width":6}, g);
  });
  mk("line", {x1:s.x(xs[0]), x2:s.x(xs[1]), y1:s.y(levels[1]), y2:s.y(levels[1]), "stroke-width":5}, g);
}
function softGroup(parent) {
  const g = mk("g", {filter:"url(#soft)"}, parent);
  
  
  return g;
}

/* ---------- layout configs ---------- */
const cfgA = {x0:235,y0:1347,sx:20.6,sy:19.33,xEnd:65.4,yTop:65.7,yMajor:yMajorTicksSSC,yMinor:yMinorTicksSSC,majorLen:23,minorLen:13,majorLenX:24,minorLenX:15,yLabelRight:204,xLabelDy:65};
const cfgB = {x0:2411,y0:1194,sx:17.53,sy:19.45,xEnd:65.2,yTop:59.4,yMajor:yMajorTicksCountB,yMinor:yMinorTicksCountB,majorLen:24,minorLen:13,majorLenX:24,minorLenX:14,yLabelRight:2379,xLabelDy:67};
const cfgC = {x0:232,y0:2871,sx:21.9,sy:20.28,xEnd:65.7,yTop:64,yMajor:yMajorTicksSSC,yMinor:yMinorTicksSSC,majorLen:27,minorLen:15,majorLenX:24,minorLenX:14,yLabelRight:200,xLabelDy:68};
const cfgD = {x0:2390,y0:2870,sx:20.8,sy:12.48,xEnd:65.5,yTop:104,yMajor:yMajorTicksCountD,yMinor:yMinorTicksCountD,majorLen:25,minorLen:15,majorLenX:25,minorLenX:15,yLabelRight:2357,xLabelDy:68};

/* ---------- panel a ---------- */
(function () {
  const root = document.getElementById("panel-a");
  const s = scales(cfgA);
  drawAxes(cfgA, root);
  const marks = softGroup(root);
  drawLevel(aBlue, levelBlue, "contour-level-1", s, marks, 3);
  drawLevel(aHoles, "#ffffff", "contour-hole", s, marks);
  drawLevel(aLight, levelLight, "contour-level-2", s, marks);
  aSpots.forEach(p => {
    const spot = [[p[0],p[1]+0.45],[p[0]+0.42,p[1]],[p[0],p[1]-0.45],[p[0]-0.42,p[1]]];
    const el = mk("polygon", {points:pts(spot, s), fill:levelLight}, marks);
    
    
  });
  drawLevel(aCyan, levelCyan, "contour-level-3", s, marks);
  drawLevel(aGreen, levelGreen, "contour-level-4", s, marks);
  drawLevel(aLime, levelLime, "contour-level-5", s, marks);
  drawLevel(aChartreuse, levelChartreuse, "contour-level-6", s, marks);
  drawLevel(aYellow, levelYellow, "contour-level-7", s, marks);
  drawLevel(aOrange, levelOrange, "contour-level-8", s, marks);
  drawLevel(aRed, levelRed, "contour-level-9", s, marks);
  const edge = mk("polyline", {points:pts(aTopEdge, s), fill:"none", stroke:"#10106e", "stroke-width":4}, marks);
  
  
  drawDots(aDots, s, marks);
  drawGate(aGateLow, true, s, marks);
  drawGate(aGateHigh, true, s, marks);
  drawGate(aGateLink, false, s, marks);
})();

/* ---------- panel b ---------- */
(function () {
  const root = document.getElementById("panel-b");
  const s = scales(cfgB);
  drawAxes(cfgB, root);
  drawHistogram(bBins, bCounts, s, -4, "url(#clip-b)", root);
  drawRange(bGateP4, bGateP4Levels, "#e000f0", "range-gate-p4", s, root);
  drawRange(bGateP5, bGateP5Levels, "#7a3030", "range-gate-p5", s, root);
})();

/* ---------- panel c ---------- */
(function () {
  const root = document.getElementById("panel-c");
  const s = scales(cfgC);
  drawAxes(cfgC, root);
  const marks = softGroup(root);
  drawLevel(cBlue, levelBlue, "contour-level-1", s, marks, 3);
  drawLevel(cHoles, "#ffffff", "contour-hole", s, marks);
  drawLevel(cLight, levelLight, "contour-level-2", s, marks);
  drawLevel(cCyan, levelCyan, "contour-level-3", s, marks);
  drawLevel(cGreen, levelGreen, "contour-level-4", s, marks);
  drawLevel(cLime, levelLime, "contour-level-5", s, marks);
  drawLevel(cChartreuse, levelChartreuse, "contour-level-6", s, marks);
  drawLevel(cYellow, levelYellow, "contour-level-7", s, marks);
  drawLevel(cOrange, levelOrange, "contour-level-8", s, marks);
  drawLevel(cRed, levelRed, "contour-level-9", s, marks);
  drawDots(cDots, s, marks);
  drawGate(cGateLow, true, s, marks);
  drawGate(cGateHigh, true, s, marks);
  drawGate(cGateLink, false, s, marks);
})();

/* ---------- panel d ---------- */
(function () {
  const root = document.getElementById("panel-d");
  const s = scales(cfgD);
  drawAxes(cfgD, root);
  drawHistogram(dBins, dCounts, s, -4, null, root);
  drawRange(dGateP4, dGateP4Levels, "#e000f0", "range-gate-p4", s, root);
  drawRange(dGateP5, dGateP5Levels, "#7a3030", "range-gate-p5", s, root);
})();
</script>
</body>
</html>
